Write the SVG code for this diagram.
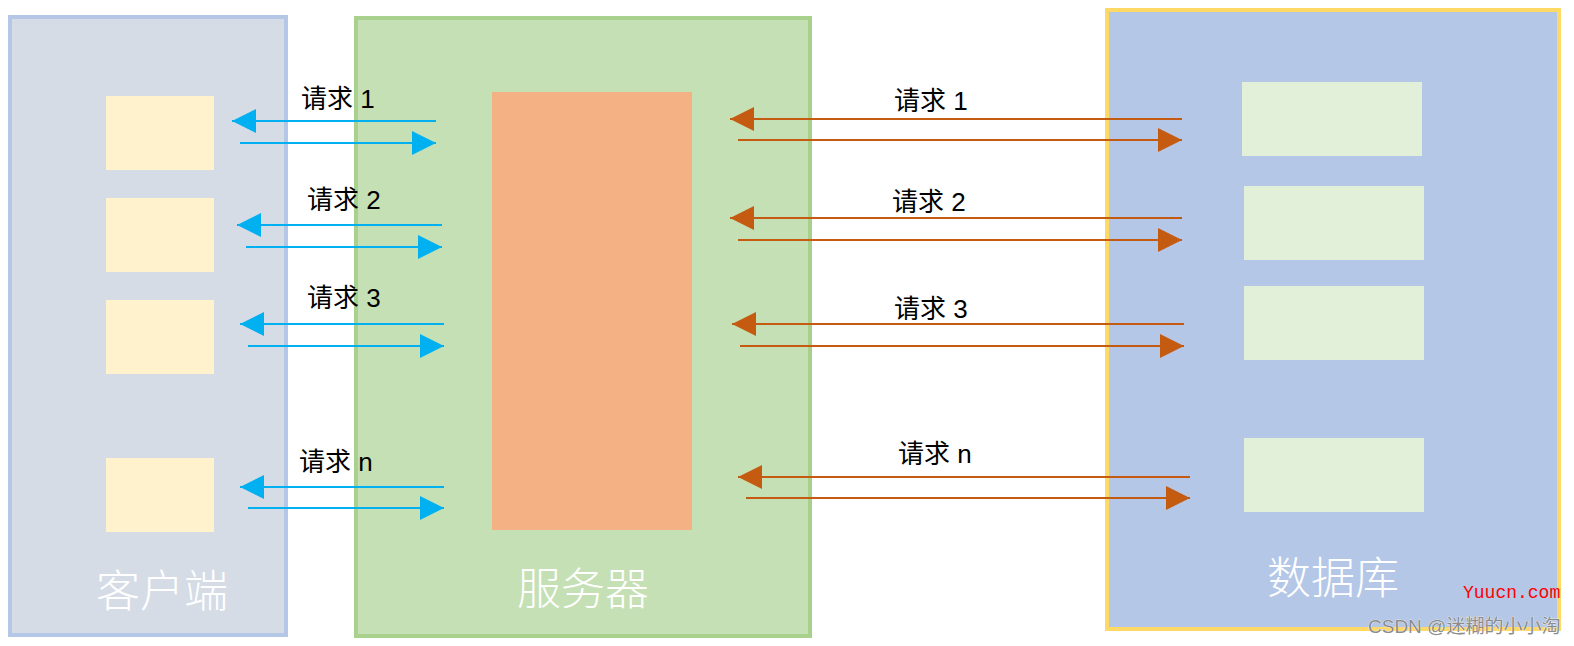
<svg xmlns="http://www.w3.org/2000/svg" width="1574" height="646" viewBox="0 0 1574 646">
  <defs>
    <style>
      .lbl { font-family: "Liberation Sans", "Noto Sans CJK SC", sans-serif; font-size: 26px; fill: #000; }
      .big { font-family: "Noto Sans CJK SC", sans-serif; font-size: 44px; fill: #ffffff; font-weight: 300; text-anchor: middle; }
      .blue { stroke: #00b0f0; stroke-width: 2; fill: none; marker-end: url(#ah-blue); }
      .orange { stroke: #c55a11; stroke-width: 2; fill: none; marker-end: url(#ah-orange); }
      .cbox { fill: #fff2cc; }
      .dbox { fill: #e2efd9; }
    </style>
    <marker id="ah-blue" markerUnits="userSpaceOnUse" markerWidth="24" markerHeight="24" refX="24" refY="12" orient="auto">
      <path d="M0,0 L24,12 L0,24 z" fill="#00b0f0"/>
    </marker>
    <marker id="ah-orange" markerUnits="userSpaceOnUse" markerWidth="24" markerHeight="24" refX="24" refY="12" orient="auto">
      <path d="M0,0 L24,12 L0,24 z" fill="#c55a11"/>
    </marker>
  </defs>
  <rect width="1574" height="646" fill="#ffffff"/>

  <g id="client">
    <rect x="10" y="17" width="276" height="618" fill="#d5dce6" stroke="#b4c7e7" stroke-width="4"/>
    <rect class="cbox" x="106" y="96" width="108" height="74"/>
    <rect class="cbox" x="106" y="198" width="108" height="74"/>
    <rect class="cbox" x="106" y="300" width="108" height="74"/>
    <rect class="cbox" x="106" y="458" width="108" height="74"/>
    <text class="big" x="162" y="607">客户端</text>
  </g>

  <g id="server">
    <rect x="356" y="18" width="454" height="618" fill="#c5e0b4" stroke="#a9d18e" stroke-width="4"/>
    <rect x="492" y="92" width="200" height="438" fill="#f4b183"/>
    <text class="big" x="583" y="605">服务器</text>
  </g>

  <g id="database">
    <rect x="1107" y="10" width="452" height="619" fill="#b4c7e7" stroke="#ffd966" stroke-width="4"/>
    <rect class="dbox" x="1242" y="82" width="180" height="74"/>
    <rect class="dbox" x="1244" y="186" width="180" height="74"/>
    <rect class="dbox" x="1244" y="286" width="180" height="74"/>
    <rect class="dbox" x="1244" y="438" width="180" height="74"/>
    <text class="big" x="1333" y="594">数据库</text>
  </g>

  <g id="connectors">
    <line class="blue" x1="436" y1="121" x2="232" y2="121"/>
    <line class="blue" x1="240" y1="143" x2="436" y2="143"/>
    <line class="blue" x1="442" y1="225" x2="237" y2="225"/>
    <line class="blue" x1="246" y1="247" x2="442" y2="247"/>
    <line class="blue" x1="444" y1="324" x2="240" y2="324"/>
    <line class="blue" x1="248" y1="346" x2="444" y2="346"/>
    <line class="blue" x1="444" y1="487" x2="240" y2="487"/>
    <line class="blue" x1="248" y1="508" x2="444" y2="508"/>

    <line class="orange" x1="1182" y1="119" x2="730" y2="119"/>
    <line class="orange" x1="738" y1="140" x2="1182" y2="140"/>
    <line class="orange" x1="1182" y1="218" x2="730" y2="218"/>
    <line class="orange" x1="738" y1="240" x2="1182" y2="240"/>
    <line class="orange" x1="1184" y1="324" x2="732" y2="324"/>
    <line class="orange" x1="740" y1="346" x2="1184" y2="346"/>
    <line class="orange" x1="1190" y1="477" x2="738" y2="477"/>
    <line class="orange" x1="746" y1="498" x2="1190" y2="498"/>
  </g>

  <g id="labels">
    <text class="lbl" x="301" y="108">请求 1</text>
    <text class="lbl" x="307" y="209">请求 2</text>
    <text class="lbl" x="307" y="307">请求 3</text>
    <text class="lbl" x="299" y="471">请求 n</text>
    <text class="lbl" x="894" y="110">请求 1</text>
    <text class="lbl" x="892" y="211">请求 2</text>
    <text class="lbl" x="894" y="318">请求 3</text>
    <text class="lbl" x="898" y="463">请求 n</text>
  </g>

  <g id="watermark">
    <text x="1463" y="598" font-family="Liberation Mono, monospace" font-size="18" fill="#ff0000">Yuucn.com</text>
    <text x="1368" y="633" font-family="Liberation Sans, 'Noto Sans CJK SC', sans-serif" font-size="19" fill="#8c8c8c" stroke="#ffffff" stroke-width="0.6" paint-order="stroke">CSDN @迷糊的小小淘</text>
  </g>
</svg>
